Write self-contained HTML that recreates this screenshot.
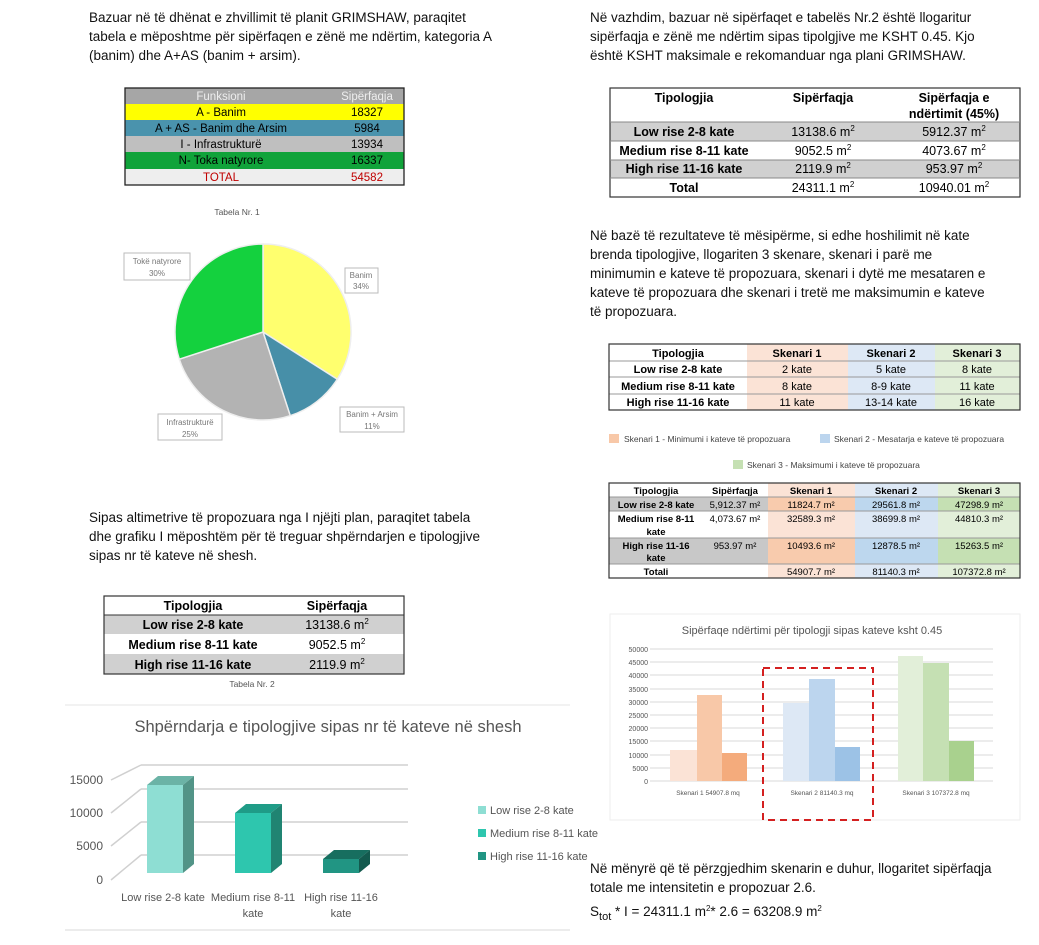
<!DOCTYPE html>
<html><head><meta charset="utf-8"><style>
body{margin:0;background:#fff;}
svg{display:block;font-family:"Liberation Sans",sans-serif;}
</style></head><body>
<svg width="1039" height="945" viewBox="0 0 1039 945" xmlns="http://www.w3.org/2000/svg">
<rect width="1039" height="945" fill="#fff"/>
<g font-size="13.5" fill="#111">
<text x="89" y="22">Bazuar në të dhënat e zhvillimit të planit GRIMSHAW, paraqitet</text>
<text x="89" y="41">tabela e mëposhtme për sipërfaqen e zënë me ndërtim, kategoria A</text>
<text x="89" y="60">(banim) dhe A+AS (banim + arsim).</text>
</g>
<g font-size="11.5" text-anchor="middle">
<rect x="125" y="88" width="279" height="16" fill="#a6a6a6"/>
<rect x="125" y="104" width="279" height="16" fill="#ffff00"/>
<rect x="125" y="120" width="279" height="16" fill="#4a93ad"/>
<rect x="125" y="136" width="279" height="16" fill="#bfbfbf"/>
<rect x="125" y="152" width="279" height="17" fill="#10a33a"/>
<rect x="125" y="169" width="279" height="16" fill="#eeeeee"/>
<rect x="125" y="88" width="279" height="97" fill="none" stroke="#222" stroke-width="1.3"/>
<text x="221" y="100" fill="#eee">Funksioni</text><text x="367" y="100" fill="#eee">Sipërfaqja</text>
<text x="221" y="116">A - Banim</text><text x="367" y="116">18327</text>
<text x="221" y="132">A + AS - Banim dhe  Arsim</text><text x="367" y="132">5984</text>
<text x="221" y="148">I - Infrastrukturë</text><text x="367" y="148">13934</text>
<text x="221" y="164">N- Toka natyrore</text><text x="367" y="164">16337</text>
<text x="221" y="181" fill="#c00000">TOTAL</text><text x="367" y="181" fill="#c00000">54582</text>
</g>
<text x="237" y="215" font-size="8.5" fill="#555" text-anchor="middle">Tabela Nr. 1</text>
<g stroke="#eee" stroke-width="1.5">
<path d="M263 332 L263 244 A88 88 0 0 1 337.3 379.2 Z" fill="#ffff6e"/>
<path d="M263 332 L337.3 379.2 A88 88 0 0 1 290.2 415.7 Z" fill="#478fa8"/>
<path d="M263 332 L290.2 415.7 A88 88 0 0 1 179.3 359.2 Z" fill="#b3b3b3"/>
<path d="M263 332 L179.3 359.2 A88 88 0 0 1 263 244 Z" fill="#14d13e"/>
</g>
<g font-size="8" fill="#777" text-anchor="middle">
<rect x="124" y="253" width="66" height="27" fill="#fff" stroke="#bbb"/><text x="157" y="264">Tokë natyrore</text><text x="157" y="276">30%</text>
<rect x="345" y="268" width="33" height="25" fill="#fff" stroke="#bbb"/><text x="361" y="278">Banim</text><text x="361" y="289">34%</text>
<rect x="340" y="407" width="64" height="25" fill="#fff" stroke="#bbb"/><text x="372" y="417">Banim + Arsim</text><text x="372" y="429">11%</text>
<rect x="158" y="414" width="64" height="26" fill="#fff" stroke="#bbb"/><text x="190" y="425">Infrastrukturë</text><text x="190" y="437">25%</text>
</g>
<g font-size="13.5" fill="#111">
<text x="89" y="522">Sipas altimetrive të propozuara nga I njëjti plan, paraqitet tabela</text>
<text x="89" y="541">dhe grafiku I mëposhtëm për të treguar shpërndarjen e tipologjive</text>
<text x="89" y="560">sipas nr të kateve në shesh.</text>
</g>
<g font-size="12.5" text-anchor="middle">
<rect x="104" y="615" width="300" height="19" fill="#d0d0d0"/>
<rect x="104" y="654" width="300" height="20" fill="#d0d0d0"/>
<rect x="104" y="596" width="300" height="78" fill="none" stroke="#333" stroke-width="1.2"/>
<line x1="104" y1="615" x2="404" y2="615" stroke="#333"/>
<text x="193" y="610" font-weight="bold">Tipologjia</text><text x="337" y="610" font-weight="bold">Sipërfaqja</text>
<text x="193" y="629" font-weight="bold">Low rise 2-8 kate</text><text x="337" y="629">13138.6 m<tspan font-size="8" dy="-5">2</tspan></text>
<text x="193" y="649" font-weight="bold">Medium rise 8-11 kate</text><text x="337" y="649">9052.5 m<tspan font-size="8" dy="-5">2</tspan></text>
<text x="193" y="669" font-weight="bold">High rise 11-16 kate</text><text x="337" y="669">2119.9 m<tspan font-size="8" dy="-5">2</tspan></text>
</g>
<text x="252" y="687" font-size="8.5" fill="#555" text-anchor="middle">Tabela Nr. 2</text>
<line x1="65" y1="705" x2="570" y2="705" stroke="#e6e6e6"/>
<line x1="65" y1="930" x2="570" y2="930" stroke="#d9d9d9"/>
<text x="328" y="732" font-size="16.5" fill="#555" text-anchor="middle">Shpërndarja e tipologjive sipas nr të kateve në shesh</text>
<g stroke="#d0d0d0" stroke-width="1.5" fill="none">
<line x1="141" y1="765" x2="408" y2="765"/><line x1="141" y1="789" x2="408" y2="789"/>
<line x1="141" y1="822" x2="408" y2="822"/><line x1="141" y1="855" x2="408" y2="855"/>
<line x1="111" y1="780" x2="141" y2="765"/><line x1="111" y1="813" x2="141" y2="789"/>
<line x1="111" y1="846" x2="141" y2="822"/><line x1="111" y1="880" x2="141" y2="855"/>
</g>
<g font-size="12" fill="#555" text-anchor="end">
<text x="103" y="784">15000</text><text x="103" y="817">10000</text><text x="103" y="850">5000</text><text x="103" y="884">0</text>
</g>
<polygon points="147,785 158,776 194,776 183,785" fill="#6bb3a6"/>
<polygon points="183,785 194,776 194,864 183,873" fill="#529487"/>
<rect x="147" y="785" width="36" height="88" fill="#8eded3"/>
<polygon points="235,813 246,804 282,804 271,813" fill="#1f9c87"/>
<polygon points="271,813 282,804 282,864 271,873" fill="#208472"/>
<rect x="235" y="813" width="36" height="60" fill="#2ec6ae"/>
<polygon points="323,859 334,850 370,850 359,859" fill="#176e5f"/>
<polygon points="359,859 370,850 370,864 359,873" fill="#135a4e"/>
<rect x="323" y="859" width="36" height="14" fill="#219583"/>
<g font-size="11" fill="#555" text-anchor="middle">
<text x="163" y="901">Low rise 2-8 kate</text>
<text x="253" y="901">Medium rise 8-11</text><text x="253" y="917">kate</text>
<text x="341" y="901">High rise 11-16</text><text x="341" y="917">kate</text>
</g>
<g font-size="11" fill="#555">
<rect x="478" y="806" width="8" height="8" fill="#8eded3"/><text x="490" y="814">Low rise 2-8 kate</text>
<rect x="478" y="829" width="8" height="8" fill="#2ec6ae"/><text x="490" y="837">Medium rise 8-11 kate</text>
<rect x="478" y="852" width="8" height="8" fill="#219583"/><text x="490" y="860">High rise 11-16 kate</text>
</g>
<g font-size="13.5" fill="#111">
<text x="590" y="22">Në vazhdim, bazuar në sipërfaqet e tabelës Nr.2  është llogaritur</text>
<text x="590" y="41">sipërfaqja e zënë me ndërtim sipas tipolgjive me KSHT 0.45. Kjo</text>
<text x="590" y="60">është KSHT maksimale e rekomanduar nga plani GRIMSHAW.</text>
</g>
<g font-size="12.5" text-anchor="middle">
<rect x="610" y="122" width="410" height="19" fill="#d0d0d0"/>
<rect x="610" y="160" width="410" height="18" fill="#d0d0d0"/>
<rect x="610" y="88" width="410" height="109" fill="none" stroke="#333" stroke-width="1.2"/>
<g stroke="#888"><line x1="610" y1="122" x2="1020" y2="122"/><line x1="610" y1="141" x2="1020" y2="141"/><line x1="610" y1="160" x2="1020" y2="160"/><line x1="610" y1="178" x2="1020" y2="178"/></g>
<g font-weight="bold"><text x="684" y="102">Tipologjia</text><text x="823" y="102">Sipërfaqja</text><text x="954" y="102">Sipërfaqja e</text><text x="954" y="118">ndërtimit (45%)</text>
<text x="684" y="136">Low rise 2-8 kate</text><text x="684" y="155">Medium rise 8-11 kate</text><text x="684" y="173">High rise 11-16 kate</text><text x="684" y="192">Total</text></g>
<text x="823" y="136">13138.6 m<tspan font-size="8" dy="-5">2</tspan></text><text x="954" y="136">5912.37 m<tspan font-size="8" dy="-5">2</tspan></text>
<text x="823" y="155">9052.5 m<tspan font-size="8" dy="-5">2</tspan></text><text x="954" y="155">4073.67 m<tspan font-size="8" dy="-5">2</tspan></text>
<text x="823" y="173">2119.9 m<tspan font-size="8" dy="-5">2</tspan></text><text x="954" y="173">953.97 m<tspan font-size="8" dy="-5">2</tspan></text>
<text x="823" y="192">24311.1 m<tspan font-size="8" dy="-5">2</tspan></text><text x="954" y="192">10940.01 m<tspan font-size="8" dy="-5">2</tspan></text>
</g>
<g font-size="13.5" fill="#111">
<text x="590" y="240">Në bazë të rezultateve të mësipërme, si edhe hoshilimit në kate</text>
<text x="590" y="259">brenda tipologjive, llogariten 3 skenare, skenari i parë me</text>
<text x="590" y="278">minimumin e kateve të propozuara, skenari i dytë me mesataren e</text>
<text x="590" y="297">kateve të propozuara dhe skenari i tretë me maksimumin e kateve</text>
<text x="590" y="316">të propozuara.</text>
</g>
<g font-size="11" text-anchor="middle">
<rect x="747" y="344" width="101" height="66" fill="#fbe3d6"/>
<rect x="848" y="344" width="87" height="66" fill="#dde8f5"/>
<rect x="935" y="344" width="85" height="66" fill="#e2efd9"/>
<g stroke="#999"><line x1="609" y1="361" x2="1020" y2="361"/><line x1="609" y1="377" x2="1020" y2="377"/><line x1="609" y1="394" x2="1020" y2="394"/></g>
<rect x="609" y="344" width="411" height="66" fill="none" stroke="#333" stroke-width="1.2"/>
<g font-weight="bold"><text x="678" y="357">Tipologjia</text><text x="797" y="357">Skenari 1</text><text x="891" y="357">Skenari 2</text><text x="977" y="357">Skenari 3</text>
<text x="678" y="373">Low rise 2-8 kate</text><text x="678" y="390">Medium rise 8-11 kate</text><text x="678" y="406">High rise 11-16 kate</text></g>
<text x="797" y="373">2 kate</text><text x="891" y="373">5 kate</text><text x="977" y="373">8 kate</text>
<text x="797" y="390">8 kate</text><text x="891" y="390">8-9 kate</text><text x="977" y="390">11 kate</text>
<text x="797" y="406">11 kate</text><text x="891" y="406">13-14 kate</text><text x="977" y="406">16 kate</text>
</g>
<g font-size="8.5" fill="#444">
<rect x="609" y="434" width="10" height="9" fill="#f8c8a8"/><text x="624" y="442">Skenari 1 - Minimumi i kateve të propozuara</text>
<rect x="820" y="434" width="10" height="9" fill="#bcd5ee"/><text x="834" y="442">Skenari 2 - Mesatarja e kateve të propozuara</text>
<rect x="733" y="460" width="10" height="9" fill="#c5e0b3"/><text x="747" y="468">Skenari 3 - Maksimumi i kateve të propozuara</text>
</g>
<g font-size="9.5" text-anchor="middle">
<rect x="609" y="497" width="159" height="14" fill="#c8c8c8"/>
<rect x="609" y="538" width="159" height="26" fill="#c8c8c8"/>
<rect x="768" y="483" width="87" height="95" fill="#fbe3d6"/><rect x="768" y="497" width="87" height="14" fill="#f8cbad"/><rect x="768" y="538" width="87" height="26" fill="#f8cbad"/>
<rect x="855" y="483" width="83" height="95" fill="#dde8f5"/><rect x="855" y="497" width="83" height="14" fill="#bdd7ee"/><rect x="855" y="538" width="83" height="26" fill="#bdd7ee"/>
<rect x="938" y="483" width="82" height="95" fill="#e2efd9"/><rect x="938" y="497" width="82" height="14" fill="#c5e0b3"/><rect x="938" y="538" width="82" height="26" fill="#c5e0b3"/>
<g stroke="#999"><line x1="609" y1="497" x2="1020" y2="497"/><line x1="609" y1="511" x2="1020" y2="511"/><line x1="609" y1="538" x2="1020" y2="538"/><line x1="609" y1="564" x2="1020" y2="564"/></g>
<rect x="609" y="483" width="411" height="95" fill="none" stroke="#333" stroke-width="1.2"/>
<g font-weight="bold"><text x="656" y="494">Tipologjia</text><text x="735" y="494">Sipërfaqja</text><text x="811" y="494">Skenari 1</text><text x="896" y="494">Skenari 2</text><text x="979" y="494">Skenari 3</text>
<text x="656" y="508">Low rise 2-8 kate</text><text x="656" y="522">Medium rise 8-11</text><text x="656" y="535">kate</text><text x="656" y="549">High rise 11-16</text><text x="656" y="561">kate</text><text x="656" y="575">Totali</text></g>
<text x="735" y="508">5,912.37 m²</text><text x="811" y="508">11824.7 m²</text><text x="896" y="508">29561.8 m²</text><text x="979" y="508">47298.9 m²</text>
<text x="735" y="522">4,073.67 m²</text><text x="811" y="522">32589.3 m²</text><text x="896" y="522">38699.8 m²</text><text x="979" y="522">44810.3 m²</text>
<text x="735" y="549">953.97 m²</text><text x="811" y="549">10493.6 m²</text><text x="896" y="549">12878.5 m²</text><text x="979" y="549">15263.5 m²</text>
<text x="811" y="575">54907.7 m²</text><text x="896" y="575">81140.3 m²</text><text x="979" y="575">107372.8 m²</text>
</g>
<rect x="610" y="614" width="410" height="206" fill="#fff" stroke="#eee"/>
<text x="812" y="634" font-size="11" fill="#555" text-anchor="middle">Sipërfaqe ndërtimi për tipologji sipas kateve ksht 0.45</text>
<g stroke="#d9d9d9"><line x1="650" y1="649" x2="993" y2="649"/><line x1="650" y1="662" x2="993" y2="662"/><line x1="650" y1="675" x2="993" y2="675"/><line x1="650" y1="689" x2="993" y2="689"/><line x1="650" y1="702" x2="993" y2="702"/><line x1="650" y1="715" x2="993" y2="715"/><line x1="650" y1="728" x2="993" y2="728"/><line x1="650" y1="741" x2="993" y2="741"/><line x1="650" y1="755" x2="993" y2="755"/><line x1="650" y1="768" x2="993" y2="768"/><line x1="650" y1="781" x2="993" y2="781"/></g>
<g font-size="7" fill="#555" text-anchor="end">
<text x="648" y="652">50000</text><text x="648" y="665">45000</text><text x="648" y="678">40000</text><text x="648" y="692">35000</text><text x="648" y="705">30000</text><text x="648" y="718">25000</text><text x="648" y="731">20000</text><text x="648" y="744">15000</text><text x="648" y="758">10000</text><text x="648" y="771">5000</text><text x="648" y="784">0</text>
</g>
<rect x="670" y="750" width="27" height="31" fill="#fbe3d6"/>
<rect x="697" y="695" width="25" height="86" fill="#f8c8a8"/>
<rect x="722" y="753" width="25" height="28" fill="#f4ab7c"/>
<rect x="783" y="703" width="26" height="78" fill="#dde8f5"/>
<rect x="809" y="679" width="26" height="102" fill="#bcd5ee"/>
<rect x="835" y="747" width="25" height="34" fill="#9cc2e6"/>
<rect x="898" y="656" width="25" height="125" fill="#e2efd9"/>
<rect x="923" y="663" width="26" height="118" fill="#c5e0b3"/>
<rect x="949" y="741" width="25" height="40" fill="#a9d18e"/>
<g font-size="6.5" fill="#555" text-anchor="middle">
<text x="708" y="795">Skenari 1   54907.8 mq</text><text x="822" y="795">Skenari 2   81140.3 mq</text><text x="936" y="795">Skenari 3  107372.8 mq</text>
</g>
<rect x="763" y="668" width="110" height="152" fill="none" stroke="#d42020" stroke-width="2" stroke-dasharray="7,5"/>
<g font-size="13.5" fill="#111">
<text x="590" y="873">Në mënyrë që të përzgjedhim skenarin e duhur, llogaritet sipërfaqja</text>
<text x="590" y="892">totale me intensitetin e propozuar 2.6.</text>
<text x="590" y="916">S<tspan font-size="11" dy="4">tot</tspan><tspan dy="-4"> * I = 24311.1 m</tspan><tspan font-size="8" dy="-5">2</tspan><tspan dy="5">* 2.6 = 63208.9 m</tspan><tspan font-size="8" dy="-5">2</tspan></text>
</g>
</svg>
</body></html>
